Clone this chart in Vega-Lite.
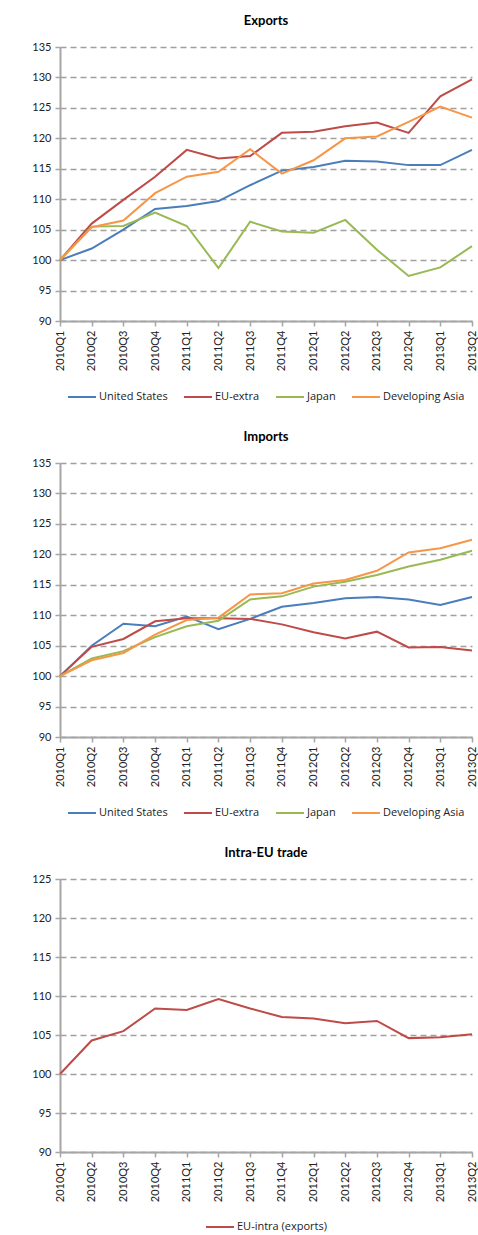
{
  "$schema": "https://vega.github.io/schema/vega-lite/v6.json",
  "padding": {"left": 31, "top": 15, "right": 4, "bottom": 0},
  "background": "white",
  "config": {
    "view": {"stroke": null},
    "font": "Lato",
    "title": {"fontSize": 13, "fontWeight": "bold", "color": "#000000", "anchor": "middle", "offset": 13},
    "axis": {"labelFont": "Lato", "labelFontSize": 11, "labelColor": "#222222", "domainColor": "#a6a6a6", "domainWidth": 2, "tickColor": "#a6a6a6", "tickWidth": 1.5, "tickSize": 5},
    "legend": {"labelFont": "Open Sans", "labelFontSize": 11, "labelColor": "#222222", "layout": {"bottom": {"anchor": "middle"}}}
  },
  "datasets": {
    "exports": [
      {"q":"2010Q1","s":"United States","v":100},{"q":"2010Q2","s":"United States","v":101.9},{"q":"2010Q3","s":"United States","v":105.0},{"q":"2010Q4","s":"United States","v":108.4},{"q":"2011Q1","s":"United States","v":108.9},{"q":"2011Q2","s":"United States","v":109.7},{"q":"2011Q3","s":"United States","v":112.3},{"q":"2011Q4","s":"United States","v":114.7},{"q":"2012Q1","s":"United States","v":115.3},{"q":"2012Q2","s":"United States","v":116.3},{"q":"2012Q3","s":"United States","v":116.2},{"q":"2012Q4","s":"United States","v":115.6},{"q":"2013Q1","s":"United States","v":115.6},{"q":"2013Q2","s":"United States","v":118.1},
      {"q":"2010Q1","s":"EU-extra","v":100},{"q":"2010Q2","s":"EU-extra","v":106.0},{"q":"2010Q3","s":"EU-extra","v":109.9},{"q":"2010Q4","s":"EU-extra","v":113.7},{"q":"2011Q1","s":"EU-extra","v":118.1},{"q":"2011Q2","s":"EU-extra","v":116.7},{"q":"2011Q3","s":"EU-extra","v":117.1},{"q":"2011Q4","s":"EU-extra","v":120.9},{"q":"2012Q1","s":"EU-extra","v":121.1},{"q":"2012Q2","s":"EU-extra","v":122.0},{"q":"2012Q3","s":"EU-extra","v":122.6},{"q":"2012Q4","s":"EU-extra","v":120.9},{"q":"2013Q1","s":"EU-extra","v":126.9},{"q":"2013Q2","s":"EU-extra","v":129.7},
      {"q":"2010Q1","s":"Japan","v":100},{"q":"2010Q2","s":"Japan","v":105.5},{"q":"2010Q3","s":"Japan","v":105.6},{"q":"2010Q4","s":"Japan","v":107.8},{"q":"2011Q1","s":"Japan","v":105.6},{"q":"2011Q2","s":"Japan","v":98.7},{"q":"2011Q3","s":"Japan","v":106.3},{"q":"2011Q4","s":"Japan","v":104.7},{"q":"2012Q1","s":"Japan","v":104.5},{"q":"2012Q2","s":"Japan","v":106.6},{"q":"2012Q3","s":"Japan","v":101.7},{"q":"2012Q4","s":"Japan","v":97.4},{"q":"2013Q1","s":"Japan","v":98.8},{"q":"2013Q2","s":"Japan","v":102.3},
      {"q":"2010Q1","s":"Developing Asia","v":100},{"q":"2010Q2","s":"Developing Asia","v":105.4},{"q":"2010Q3","s":"Developing Asia","v":106.5},{"q":"2010Q4","s":"Developing Asia","v":111.0},{"q":"2011Q1","s":"Developing Asia","v":113.7},{"q":"2011Q2","s":"Developing Asia","v":114.5},{"q":"2011Q3","s":"Developing Asia","v":118.2},{"q":"2011Q4","s":"Developing Asia","v":114.2},{"q":"2012Q1","s":"Developing Asia","v":116.4},{"q":"2012Q2","s":"Developing Asia","v":120.0},{"q":"2012Q3","s":"Developing Asia","v":120.3},{"q":"2012Q4","s":"Developing Asia","v":122.7},{"q":"2013Q1","s":"Developing Asia","v":125.2},{"q":"2013Q2","s":"Developing Asia","v":123.4}
    ],
    "imports": [
      {"q":"2010Q1","s":"United States","v":100},{"q":"2010Q2","s":"United States","v":105.0},{"q":"2010Q3","s":"United States","v":108.6},{"q":"2010Q4","s":"United States","v":108.2},{"q":"2011Q1","s":"United States","v":109.8},{"q":"2011Q2","s":"United States","v":107.7},{"q":"2011Q3","s":"United States","v":109.4},{"q":"2011Q4","s":"United States","v":111.4},{"q":"2012Q1","s":"United States","v":112.0},{"q":"2012Q2","s":"United States","v":112.8},{"q":"2012Q3","s":"United States","v":113.0},{"q":"2012Q4","s":"United States","v":112.6},{"q":"2013Q1","s":"United States","v":111.7},{"q":"2013Q2","s":"United States","v":113.0},
      {"q":"2010Q1","s":"EU-extra","v":100},{"q":"2010Q2","s":"EU-extra","v":104.8},{"q":"2010Q3","s":"EU-extra","v":106.1},{"q":"2010Q4","s":"EU-extra","v":109.0},{"q":"2011Q1","s":"EU-extra","v":109.5},{"q":"2011Q2","s":"EU-extra","v":109.5},{"q":"2011Q3","s":"EU-extra","v":109.4},{"q":"2011Q4","s":"EU-extra","v":108.5},{"q":"2012Q1","s":"EU-extra","v":107.2},{"q":"2012Q2","s":"EU-extra","v":106.2},{"q":"2012Q3","s":"EU-extra","v":107.3},{"q":"2012Q4","s":"EU-extra","v":104.7},{"q":"2013Q1","s":"EU-extra","v":104.8},{"q":"2013Q2","s":"EU-extra","v":104.2},
      {"q":"2010Q1","s":"Japan","v":100},{"q":"2010Q2","s":"Japan","v":102.9},{"q":"2010Q3","s":"Japan","v":104.1},{"q":"2010Q4","s":"Japan","v":106.4},{"q":"2011Q1","s":"Japan","v":108.2},{"q":"2011Q2","s":"Japan","v":109.1},{"q":"2011Q3","s":"Japan","v":112.6},{"q":"2011Q4","s":"Japan","v":113.1},{"q":"2012Q1","s":"Japan","v":114.7},{"q":"2012Q2","s":"Japan","v":115.5},{"q":"2012Q3","s":"Japan","v":116.6},{"q":"2012Q4","s":"Japan","v":118.0},{"q":"2013Q1","s":"Japan","v":119.1},{"q":"2013Q2","s":"Japan","v":120.6},
      {"q":"2010Q1","s":"Developing Asia","v":100},{"q":"2010Q2","s":"Developing Asia","v":102.6},{"q":"2010Q3","s":"Developing Asia","v":103.8},{"q":"2010Q4","s":"Developing Asia","v":106.8},{"q":"2011Q1","s":"Developing Asia","v":109.2},{"q":"2011Q2","s":"Developing Asia","v":109.6},{"q":"2011Q3","s":"Developing Asia","v":113.4},{"q":"2011Q4","s":"Developing Asia","v":113.6},{"q":"2012Q1","s":"Developing Asia","v":115.2},{"q":"2012Q2","s":"Developing Asia","v":115.8},{"q":"2012Q3","s":"Developing Asia","v":117.3},{"q":"2012Q4","s":"Developing Asia","v":120.3},{"q":"2013Q1","s":"Developing Asia","v":121.0},{"q":"2013Q2","s":"Developing Asia","v":122.4}
    ],
    "intra": [
      {"q":"2010Q1","s":"EU-intra (exports)","v":100},{"q":"2010Q2","s":"EU-intra (exports)","v":104.3},{"q":"2010Q3","s":"EU-intra (exports)","v":105.5},{"q":"2010Q4","s":"EU-intra (exports)","v":108.4},{"q":"2011Q1","s":"EU-intra (exports)","v":108.2},{"q":"2011Q2","s":"EU-intra (exports)","v":109.6},{"q":"2011Q3","s":"EU-intra (exports)","v":108.4},{"q":"2011Q4","s":"EU-intra (exports)","v":107.3},{"q":"2012Q1","s":"EU-intra (exports)","v":107.1},{"q":"2012Q2","s":"EU-intra (exports)","v":106.5},{"q":"2012Q3","s":"EU-intra (exports)","v":106.8},{"q":"2012Q4","s":"EU-intra (exports)","v":104.6},{"q":"2013Q1","s":"EU-intra (exports)","v":104.7},{"q":"2013Q2","s":"EU-intra (exports)","v":105.1}
    ]
  },
  "resolve": {"scale": {"color": "independent", "x": "independent", "y": "independent"}, "legend": {"color": "independent"}},
  "spacing": 29,
  "vconcat": [
    {
      "title": "Exports",
      "width": 412, "height": 274,
      "data": {"name": "exports"},
      "mark": {"type": "line", "strokeWidth": 2},
      "encoding": {
        "x": {"field": "q", "type": "ordinal", "sort": null, "title": null, "scale": {"type": "point", "padding": 0},
              "axis": {"labelAngle": -90, "labelPadding": 4, "grid": false}},
        "y": {"field": "v", "type": "quantitative", "title": null, "scale": {"domain": [90, 135], "nice": false, "zero": false},
              "axis": {"values": [90,95,100,105,110,115,120,125,130,135], "labelPadding": 4, "grid": true, "gridDash": [6, 4], "gridColor": "#a0a0a0", "gridWidth": 1.5}},
        "color": {"field": "s", "type": "nominal", "sort": null,
                  "scale": {"domain": ["United States", "EU-extra", "Japan", "Developing Asia"], "range": ["#4a7ebb", "#be4b48", "#98b954", "#f79646"]},
                  "legend": {"orient": "bottom", "direction": "horizontal", "title": null, "symbolType": "stroke", "symbolSize": 784, "symbolStrokeWidth": 2, "columnPadding": 12, "labelOffset": 2, "offset": 11}}
      }
    },
    {
      "title": "Imports",
      "width": 412, "height": 274,
      "data": {"name": "imports"},
      "mark": {"type": "line", "strokeWidth": 2},
      "encoding": {
        "x": {"field": "q", "type": "ordinal", "sort": null, "title": null, "scale": {"type": "point", "padding": 0},
              "axis": {"labelAngle": -90, "labelPadding": 4, "grid": false}},
        "y": {"field": "v", "type": "quantitative", "title": null, "scale": {"domain": [90, 135], "nice": false, "zero": false},
              "axis": {"values": [90,95,100,105,110,115,120,125,130,135], "labelPadding": 4, "grid": true, "gridDash": [6, 4], "gridColor": "#a0a0a0", "gridWidth": 1.5}},
        "color": {"field": "s", "type": "nominal", "sort": null,
                  "scale": {"domain": ["United States", "EU-extra", "Japan", "Developing Asia"], "range": ["#4a7ebb", "#be4b48", "#98b954", "#f79646"]},
                  "legend": {"orient": "bottom", "direction": "horizontal", "title": null, "symbolType": "stroke", "symbolSize": 784, "symbolStrokeWidth": 2, "columnPadding": 12, "labelOffset": 2, "offset": 11}}
      }
    },
    {
      "title": "Intra-EU trade",
      "width": 412, "height": 273,
      "data": {"name": "intra"},
      "mark": {"type": "line", "strokeWidth": 2},
      "encoding": {
        "x": {"field": "q", "type": "ordinal", "sort": null, "title": null, "scale": {"type": "point", "padding": 0},
              "axis": {"labelAngle": -90, "labelPadding": 4, "grid": false}},
        "y": {"field": "v", "type": "quantitative", "title": null, "scale": {"domain": [90, 125], "nice": false, "zero": false},
              "axis": {"values": [90,95,100,105,110,115,120,125], "labelPadding": 4, "grid": true, "gridDash": [6, 4], "gridColor": "#a0a0a0", "gridWidth": 1.5}},
        "color": {"field": "s", "type": "nominal",
                  "scale": {"domain": ["EU-intra (exports)"], "range": ["#be4b48"]},
                  "legend": {"orient": "bottom", "direction": "horizontal", "title": null, "symbolType": "stroke", "symbolSize": 784, "symbolStrokeWidth": 2, "labelOffset": 2, "offset": 10}}
      }
    }
  ]
}
